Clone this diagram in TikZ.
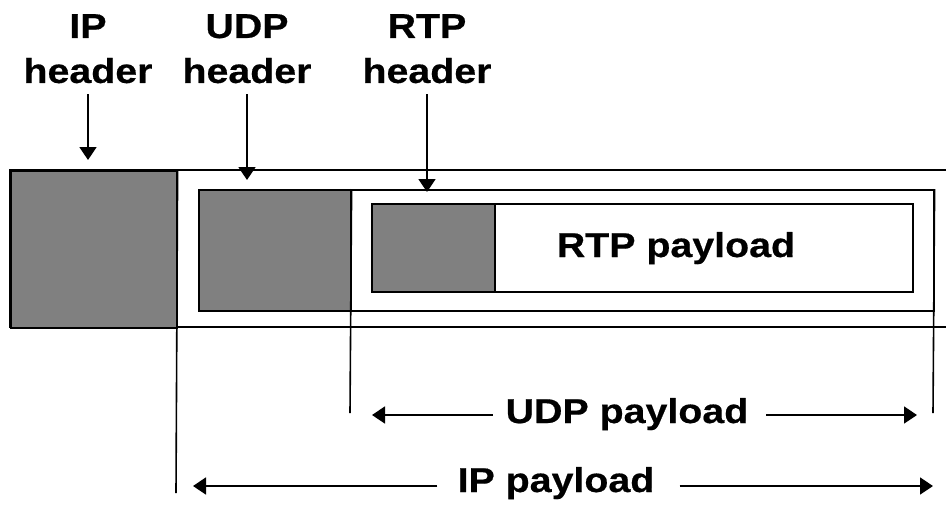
\documentclass[tikz,border=0pt]{standalone}
\usepackage{fontspec}
\setmainfont[FakeStretch=1.14,FakeBold=0.5]{Liberation Sans}
\usetikzlibrary{arrows.meta}
\definecolor{hdrgray}{RGB}{128,128,128}
\begin{document}
\begin{tikzpicture}[x=1pt,y=-1pt,
  frame/.style={draw=black,line width=1.6pt},
  hdrbox/.style={frame,fill=hdrgray,inner sep=0pt,anchor=north west},
  pkt/.style={frame,fill=white,inner sep=0pt,anchor=north west},
  lbl/.style={font=\fontsize{34.5}{45}\selectfont\bfseries,align=center,inner sep=0pt,anchor=north},
  ptxt/.style={font=\fontsize{34.5}{40}\selectfont\bfseries,inner sep=0pt,anchor=base},
  pointer/.style={line width=1.6pt,-{Triangle[length=13pt,width=17pt]}},
  tick/.style={line width=1.6pt}]
\useasboundingbox (0,0) rectangle (946,504);

% IP packet, running on past the right edge
\draw[frame] (946,170) -- (10,170) -- (10,327) -- (946,327);
\node[hdrbox,minimum width=166pt,minimum height=157pt] (iph) at (10,170) {};

% UDP datagram inside the IP payload
\node[pkt,minimum width=735pt,minimum height=121pt] (udp) at (198,189) {};
\node[hdrbox,minimum width=152pt,minimum height=121pt] (udph) at (198,189) {};

% RTP packet inside the UDP payload
\node[pkt,minimum width=541pt,minimum height=88pt] (rtp) at (371,203) {};
\node[hdrbox,minimum width=123pt,minimum height=88pt] (rtph) at (371,203) {};
\node[ptxt] (rtppl) at (676,257) {RTP payload};

% extent markers
\coordinate (ipTick) at (176,493);
\coordinate (udpTickL) at (350,413);
\coordinate (udpTickR) at (933,413);
\draw[tick] (iph.north east) -- (ipTick);
\draw[tick] (udph.north east) -- (udpTickL);
\draw[tick] (udp.north east) -- (udpTickR);

% UDP payload span
\node[ptxt] (udppl) at (627,423) {UDP payload};
\coordinate (udpA) at (372,415);
\coordinate (udpB) at (917,415);
\draw[pointer,shorten <=13pt] (udppl.west |- udpA) -- (udpA);
\draw[pointer,shorten <=18pt] (udppl.east |- udpB) -- (udpB);

% IP payload span
\node[ptxt] (ippl) at (556,492) {IP payload};
\coordinate (ipA) at (193,486);
\coordinate (ipB) at (933,486);
\draw[pointer,shorten <=20pt] (ippl.west |- ipA) -- (ipA);
\draw[pointer,shorten <=25pt] (ippl.east |- ipB) -- (ipB);

% header captions
\node[lbl] (ipl) at (88,14) {IP\\header};
\node[lbl] (udpl) at (247,14) {UDP\\header};
\node[lbl] (rtpl) at (427,14) {RTP\\header};
\draw[pointer,shorten <=11pt,shorten >=10pt] (ipl.south) -- (ipl.south |- iph.north);
\draw[pointer,shorten <=11pt,shorten >=9pt] (udpl.south) -- (udpl.south |- udph.north);
\draw[pointer,shorten <=11pt,shorten >=11pt] (rtpl.south) -- (rtpl.south |- rtph.north);
\end{tikzpicture}
\end{document}
